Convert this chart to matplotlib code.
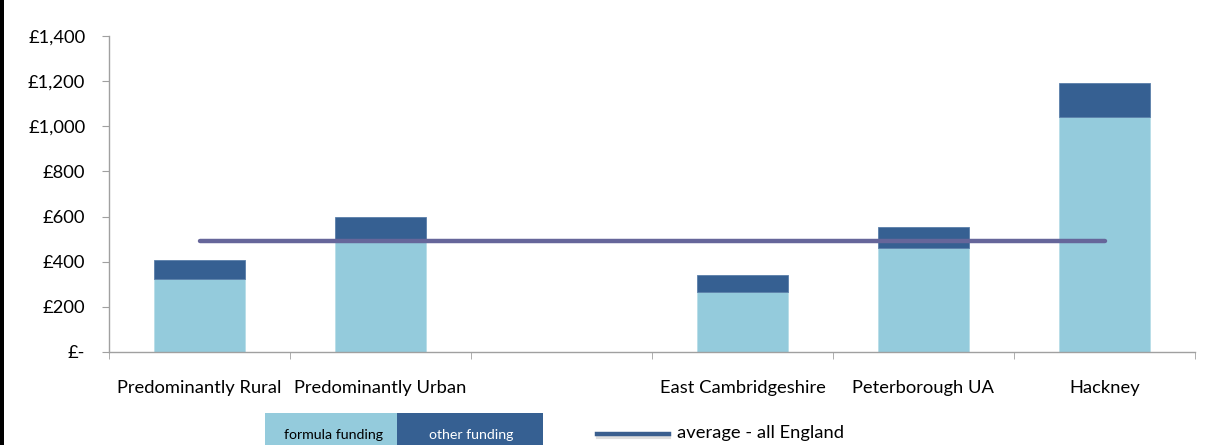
import numpy as np
import matplotlib.pyplot as plt
from matplotlib.patches import Rectangle
from matplotlib.lines import Line2D
from matplotlib.ticker import FuncFormatter

# ---- data ----
categories = ["Predominantly Rural", "Predominantly Urban", "",
              "East Cambridgeshire", "Peterborough UA", "Hackney"]
formula_funding = [323, 492, 0, 266, 461, 1041]
other_funding = [84, 106, 0, 75, 93, 151]
average_england = 490

LIGHT = "#94CBDC"
DARK = "#366092"
AVG = "#66669A"

plt.rcParams["font.family"] = ["Lato", "DejaVu Sans"]

W, H = 1221, 445
fig = plt.figure(figsize=(W / 100, H / 100), dpi=100)
ax = fig.add_axes([109 / W, 1 - 352 / H, (1195 - 109) / W, (352 - 36) / H])

x = np.arange(len(categories))
ax.bar(x, formula_funding, width=0.5, color=LIGHT, edgecolor="#B8DDE8", linewidth=0.6, zorder=2)
ax.bar(x, other_funding, width=0.5, bottom=formula_funding, color=DARK,
       edgecolor="#5A7FAA", linewidth=0.6, zorder=2)
ax.plot([x[0], x[-1]], [average_england, average_england], color=AVG, lw=3.2,
        solid_capstyle="round", zorder=3)

ax.set_xlim(-0.5, len(categories) - 0.5)
ax.set_ylim(0, 1400)
ax.set_yticks(np.arange(0, 1401, 200))
ax.yaxis.set_major_formatter(FuncFormatter(lambda v, p: "£-" if v == 0 else f"£{v:,.0f}"))

ax.set_xticks(x)
ax.set_xticklabels(categories)
ax.set_xticks(np.arange(-0.5, len(categories), 1.0), minor=True)
ax.tick_params(axis="x", which="major", length=0, pad=20, labelsize=13.2)
ax.tick_params(axis="x", which="minor", length=5, color="#A0A0A0", direction="out")
ax.tick_params(axis="y", length=5, color="#A0A0A0", labelsize=13.2, pad=12)

for s in ["top", "right"]:
    ax.spines[s].set_visible(False)
for s in ["left", "bottom"]:
    ax.spines[s].set_color("#A0A0A0")
    ax.spines[s].set_linewidth(1.0)

# left border of the original figure
fig.patches.append(Rectangle((0, 0), 4 / W, 1, transform=fig.transFigure,
                             facecolor="black", edgecolor="none"))

# legend drawn by hand along the bottom
fig.patches.append(Rectangle((265 / W, 0), 132 / W, (445 - 413) / H,
                             transform=fig.transFigure, facecolor=LIGHT, edgecolor="none"))
fig.patches.append(Rectangle((397 / W, 0), 146 / W, (445 - 413) / H,
                             transform=fig.transFigure, facecolor=DARK, edgecolor="none"))
fig.text(333 / W, 1 - 435 / H, "formula funding", ha="center", va="center", fontsize=10.2, color="black")
fig.text(471 / W, 1 - 435 / H, "other funding", ha="center", va="center", fontsize=10.2, color="white")
fig.lines.append(Line2D([598 / W, 669 / W], [1 - 437 / H, 1 - 437 / H], transform=fig.transFigure,
                        color="#C8C8C8", lw=3.0, alpha=0.6))
fig.lines.append(Line2D([597 / W, 669 / W], [1 - 434 / H, 1 - 434 / H], transform=fig.transFigure,
                        color="#3A5F8F", lw=3.2))
fig.text(677 / W, 1 - 433 / H, "average - all England", ha="left", va="center", fontsize=13.2)

fig.savefig("out.png", dpi=100)
